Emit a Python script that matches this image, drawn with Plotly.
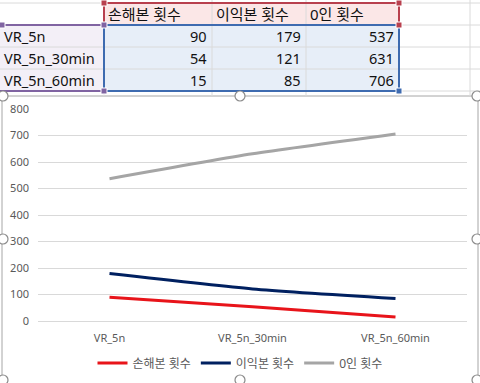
import plotly.graph_objects as go

categories = ["VR_5n", "VR_5n_30min", "VR_5n_60min"]
series_names = ["손해본 횟수", "이익본 횟수", "0인 횟수"]
loss_counts = [90, 54, 15]
gain_counts = [179, 121, 85]
zero_counts = [537, 631, 706]
y_ticks = [0, 100, 200, 300, 400, 500, 600, 700, 800]

W, H = 480, 383
FONT = "Noto Sans, Noto Sans CJK KR, sans-serif"


def px(x):
    return x / W


def py(y):
    return 1 - y / H


fig = go.Figure()
colors = ["#E8141A", "#002060", "#A5A5A5"]
for name, vals, col in zip(series_names, [loss_counts, gain_counts, zero_counts], colors):
    fig.add_trace(go.Scatter(
        x=categories, y=vals, name=name, mode="lines",
        line=dict(color=col, width=3, shape="spline", smoothing=0.6),
    ))

shapes = []
annotations = []

# --- spreadsheet grid (top area) ---
grid_col = "#DADADA"
row_lines = [3, 25, 47, 69, 91]
col_lines = [104, 212, 306, 399, 470]
shapes.append(dict(type="rect", xref="paper", yref="paper", x0=px(104), x1=px(399), y0=py(25), y1=py(3),
                   fillcolor="#FBE7E7", line=dict(width=0), layer="below"))
shapes.append(dict(type="rect", xref="paper", yref="paper", x0=px(0), x1=px(104), y0=py(91), y1=py(25),
                   fillcolor="#F3EFF7", line=dict(width=0), layer="below"))
shapes.append(dict(type="rect", xref="paper", yref="paper", x0=px(104), x1=px(399), y0=py(91), y1=py(25),
                   fillcolor="#E7EEF8", line=dict(width=0), layer="below"))
for ry in row_lines:
    shapes.append(dict(type="line", xref="paper", yref="paper", x0=0, x1=1, y0=py(ry), y1=py(ry),
                       line=dict(color=grid_col, width=1)))
for cx in col_lines:
    shapes.append(dict(type="line", xref="paper", yref="paper", x0=px(cx), x1=px(cx), y0=py(96), y1=1,
                       line=dict(color=grid_col, width=1)))
shapes.append(dict(type="rect", xref="paper", yref="paper", x0=px(104), x1=px(399), y0=py(25), y1=py(3),
                   line=dict(color="#B8404E", width=2)))
shapes.append(dict(type="rect", xref="paper", yref="paper", x0=px(-2), x1=px(104), y0=py(91), y1=py(25),
                   line=dict(color="#8064A2", width=2)))
shapes.append(dict(type="rect", xref="paper", yref="paper", x0=px(104), x1=px(399), y0=py(91), y1=py(25),
                   line=dict(color="#3E6BB0", width=2)))
for (hx, hy, hc) in [(104, 3, "#B8404E"), (399, 3, "#B8404E"), (399, 25, "#B8404E"),
                     (2, 25, "#8064A2"), (104, 25, "#8064A2"), (104, 91, "#8064A2"),
                     (399, 91, "#3E6BB0")]:
    shapes.append(dict(type="rect", xref="paper", yref="paper", x0=px(hx - 3), x1=px(hx + 3),
                       y0=py(hy + 3), y1=py(hy - 3), fillcolor=hc, line=dict(color="white", width=1)))

# --- chart area ---
shapes.append(dict(type="rect", xref="paper", yref="paper", x0=px(2), x1=px(478), y0=py(395), y1=py(96),
                   fillcolor="white", line=dict(color="#A6A6A6", width=1), layer="below"))
for (hx, hy) in [(3, 96), (240, 96), (477, 96), (3, 239), (477, 239), (3, 380), (240, 380), (477, 380)]:
    shapes.append(dict(type="circle", xref="paper", yref="paper", x0=px(hx - 5), x1=px(hx + 5),
                       y0=py(hy + 5), y1=py(hy - 5), fillcolor="white", line=dict(color="#8C8C8C", width=1.2)))

# table texts
col_left = [104, 212, 306]
col_right = [209, 303, 396]
row_mid = [36, 58, 80]
hfont = dict(family=FONT, size=15, color="#111111")
tfont = dict(family=FONT, size=14.5, color="#111111")
for name, cl in zip(series_names, col_left):
    annotations.append(dict(text=name, x=px(cl + 2), y=py(14), xref="paper", yref="paper",
                            xanchor="left", yanchor="middle", showarrow=False, font=hfont))
for cat, rm in zip(categories, row_mid):
    annotations.append(dict(text=cat, x=px(2), y=py(rm), xref="paper", yref="paper",
                            xanchor="left", yanchor="middle", showarrow=False, font=tfont))
for vals, cr in zip([loss_counts, gain_counts, zero_counts], col_right):
    for v, rm in zip(vals, row_mid):
        annotations.append(dict(text=str(v), x=px(cr), y=py(rm), xref="paper", yref="paper",
                                xanchor="right", yanchor="middle", showarrow=False, font=tfont))

fig.update_layout(
    width=W, height=H, autosize=False,
    margin=dict(l=0, r=0, t=0, b=0, autoexpand=False),
    paper_bgcolor="white", plot_bgcolor="white",
    font=dict(family=FONT, size=11, color="#595959"),
    shapes=shapes, annotations=annotations,
    showlegend=True,
    legend=dict(orientation="h", x=0.5, xanchor="center", y=py(363), yanchor="middle",
                font=dict(size=12, color="#595959"), itemwidth=30, bgcolor="rgba(0,0,0,0)"),
    xaxis=dict(domain=[px(38), px(467)], range=[-0.5, 2.5], type="category", automargin=False,
               showgrid=False, showline=True, linecolor="#D9D9D9", linewidth=1,
               ticks="", tickfont=dict(size=11, color="#595959"), ticklabelstandoff=7),
    yaxis=dict(domain=[py(321), py(109)], range=[0, 800], tickvals=y_ticks, automargin=False,
               showgrid=True, gridcolor="#D9D9D9", gridwidth=1, zeroline=False,
               showline=False, ticks="", tickfont=dict(size=11, color="#595959"),
               ticklabelstandoff=8),
)

fig.write_html("out.html", config={"displayModeBar": False},
               post_script="document.body.style.margin='0';")
